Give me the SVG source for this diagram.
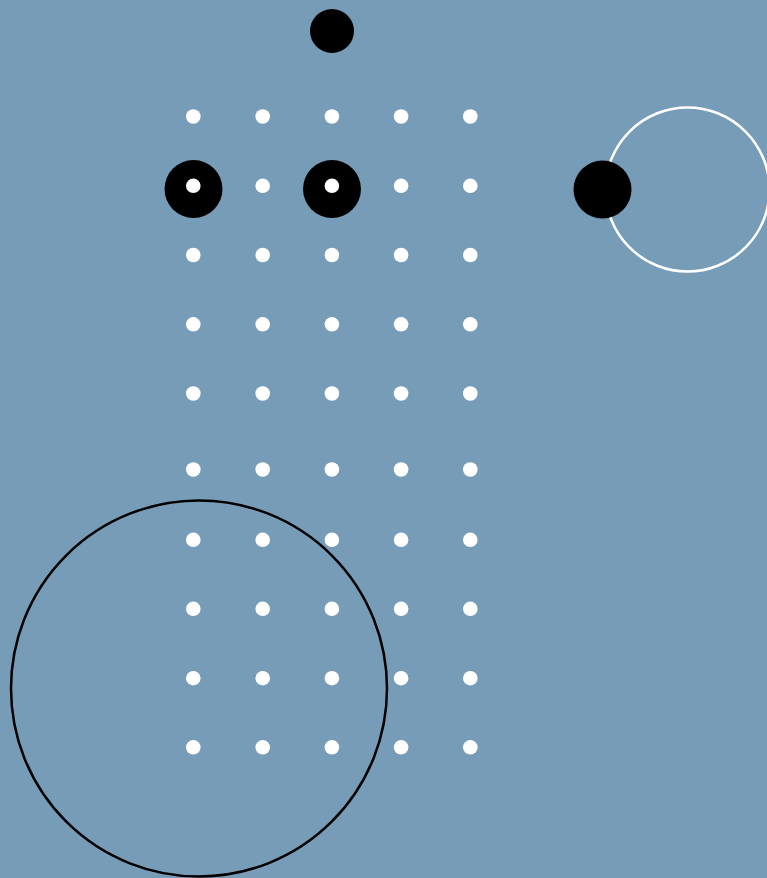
<svg xmlns="http://www.w3.org/2000/svg" width="767" height="878" viewBox="0 0 767 878">
<style>
.bg{fill:#769cb8}
.blk{fill:#000}
.dot{fill:#fff}
.ring-w{fill:none;stroke:#fff;stroke-width:2.5}
.ring-b{fill:none;stroke:#000;stroke-width:2.5}
</style>
<defs><circle id="d" r="7.3" class="dot"/></defs>
<rect class="bg" x="0" y="0" width="767" height="878"/>
<circle class="ring-w" cx="687.5" cy="189.5" r="82"/>
<circle class="ring-b" cx="199" cy="688.5" r="188"/>
<circle class="blk" cx="332" cy="31" r="22"/>
<circle class="blk" cx="193.5" cy="189" r="29"/>
<circle class="blk" cx="332" cy="189" r="29"/>
<circle class="blk" cx="602.5" cy="189.5" r="29"/>
<g id="dots">
<g transform="translate(0,116.5)"><use href="#d" x="193.3"/><use href="#d" x="262.7"/><use href="#d" x="331.9"/><use href="#d" x="401.1"/><use href="#d" x="470.3"/></g>
<g transform="translate(0,185.8)"><use href="#d" x="193.3"/><use href="#d" x="262.7"/><use href="#d" x="331.9"/><use href="#d" x="401.1"/><use href="#d" x="470.3"/></g>
<g transform="translate(0,255)"><use href="#d" x="193.3"/><use href="#d" x="262.7"/><use href="#d" x="331.9"/><use href="#d" x="401.1"/><use href="#d" x="470.3"/></g>
<g transform="translate(0,324.3)"><use href="#d" x="193.3"/><use href="#d" x="262.7"/><use href="#d" x="331.9"/><use href="#d" x="401.1"/><use href="#d" x="470.3"/></g>
<g transform="translate(0,393.5)"><use href="#d" x="193.3"/><use href="#d" x="262.7"/><use href="#d" x="331.9"/><use href="#d" x="401.1"/><use href="#d" x="470.3"/></g>
<g transform="translate(0,469.5)"><use href="#d" x="193.3"/><use href="#d" x="262.7"/><use href="#d" x="331.9"/><use href="#d" x="401.1"/><use href="#d" x="470.3"/></g>
<g transform="translate(0,539.8)"><use href="#d" x="193.3"/><use href="#d" x="262.7"/><use href="#d" x="331.9"/><use href="#d" x="401.1"/><use href="#d" x="470.3"/></g>
<g transform="translate(0,608.8)"><use href="#d" x="193.3"/><use href="#d" x="262.7"/><use href="#d" x="331.9"/><use href="#d" x="401.1"/><use href="#d" x="470.3"/></g>
<g transform="translate(0,678.2)"><use href="#d" x="193.3"/><use href="#d" x="262.7"/><use href="#d" x="331.9"/><use href="#d" x="401.1"/><use href="#d" x="470.3"/></g>
<g transform="translate(0,747.3)"><use href="#d" x="193.3"/><use href="#d" x="262.7"/><use href="#d" x="331.9"/><use href="#d" x="401.1"/><use href="#d" x="470.3"/></g>
</g>
</svg>
